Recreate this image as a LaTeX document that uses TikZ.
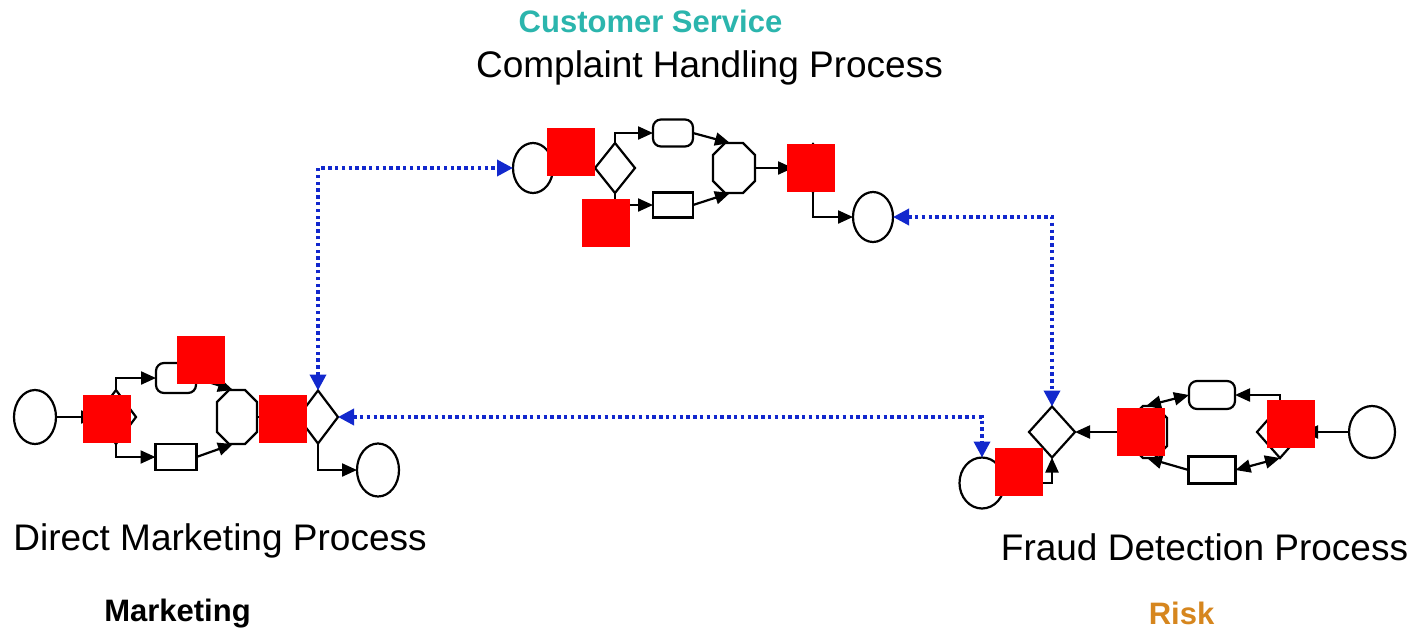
\documentclass[tikz,border=0pt]{standalone}
\usepackage{fontspec}
\setmainfont{Liberation Sans}
\usetikzlibrary{shapes.geometric,arrows.meta}
\definecolor{linkblue}{RGB}{18,40,205}
\definecolor{teal2}{RGB}{43,181,173}
\definecolor{riskorange}{RGB}{214,134,30}
\tikzset{
  shp/.style={draw=black, line width=2.2pt, fill=white, inner sep=0pt, outer sep=0pt},
  circ/.style={shp, ellipse},
  dia/.style={shp, diamond},
  rrect/.style={shp, rectangle, rounded corners=8pt},
  rect/.style={shp, rectangle},
  octbox/.style={rectangle, inner sep=0pt, outer sep=0pt},
  redsq/.style={fill=red, minimum size=48pt, inner sep=0pt},
  flow/.style={draw=black, line width=2.2pt, -{Triangle[length=15pt,width=13pt]}},
  bflow/.style={draw=black, line width=2.2pt, {Triangle[length=15pt,width=13pt]}-{Triangle[length=15pt,width=13pt]}},
  link/.style={draw=linkblue, line width=3.6pt, dash pattern=on 3.4pt off 3.4pt,
    {Triangle[length=16pt,width=16pt]}-{Triangle[length=16pt,width=16pt]}},
  ptitle/.style={font=\fontsize{37}{44}\selectfont, anchor=base, inner sep=0pt},
  dept/.style={font=\bfseries\fontsize{31}{37}\selectfont, anchor=base, inner sep=0pt},
}
\newcommand\octnode[4]{%
  \node[octbox, minimum width=#3, minimum height=#4] (#1) at #2 {};
  \draw[line width=2.2pt, fill=white]
    ([xshift=12pt]#1.north west) -- ([xshift=-12pt]#1.north east)
    -- ([yshift=-12pt]#1.north east) -- ([yshift=12pt]#1.south east)
    -- ([xshift=-12pt]#1.south east) -- ([xshift=12pt]#1.south west)
    -- ([yshift=12pt]#1.south west) -- ([yshift=-12pt]#1.north west) -- cycle;
}
\begin{document}
\begin{tikzpicture}[x=1pt, y=-1pt]
\useasboundingbox[fill=white] (0,0) rectangle (1412,630);

% ---------- texts ----------
\node[dept, text=teal2] (tcs) at (650.5,32) {Customer Service};
\node[ptitle] (tch) at (709.5,77) {Complaint Handling Process};
\node[ptitle] (tdm) at (220,550) {Direct Marketing Process};
\node[ptitle] (tfd) at (1204.5,560) {Fraud Detection Process};
\node[dept] (tmk) at (177.5,621) {Marketing};
\node[dept, text=riskorange] (trk) at (1181.5,624) {Risk};

% ---------- Complaint handling ----------
\node[circ, minimum width=40pt, minimum height=50pt] (cs) at (533,168) {};
\node[dia, minimum width=40pt, minimum height=50pt] (cd1) at (615,168) {};
\node[rrect, minimum width=40pt, minimum height=27pt] (crr) at (673,133) {};
\node[rect, minimum width=40pt, minimum height=25pt] (crc) at (673,205) {};
\octnode{coc}{(734,168)}{42pt}{50pt}
\node[dia, minimum width=40pt, minimum height=48pt] (cd2) at (813,168) {};
\node[circ, minimum width=40pt, minimum height=50pt] (ce) at (873,217) {};

\draw[flow] (cs.east) -- (cd1.west);
\draw[flow] (cd1.north) |- (crr.west);
\draw[flow] (cd1.south) |- (crc.west);
\draw[flow] (crr.east) -- ([xshift=-4pt]coc.north);
\draw[flow] (crc.east) -- ([xshift=-4pt]coc.south);
\draw[flow] (coc.east) -- (cd2.west);
\draw[flow] (cd2.south) |- (ce.west);

% ---------- Direct marketing ----------
\node[circ, minimum width=42pt, minimum height=54pt] (ls) at (35,417) {};
\node[dia, minimum width=40pt, minimum height=54pt] (ld1) at (116,417) {};
\node[rrect, minimum width=40pt, minimum height=30pt] (lrr) at (176,378) {};
\node[rect, minimum width=41pt, minimum height=26pt] (lrc) at (176,457) {};
\octnode{loc}{(237,417)}{40pt}{54pt}
\node[dia, minimum width=40pt, minimum height=53pt] (ld2) at (318,417) {};
\node[circ, minimum width=42pt, minimum height=53pt] (le) at (378,470) {};

\draw[flow] (ls.east) -- (ld1.west);
\draw[flow] (ld1.north) |- (lrr.west);
\draw[flow] (ld1.south) |- (lrc.west);
\draw[flow] (lrr.east) -- ([xshift=-4pt]loc.north);
\draw[flow] (lrc.east) -- ([xshift=-4pt]loc.south);
\draw[flow] (loc.east) -- (ld2.west);
\draw[flow] (ld2.south) |- (le.west);

% ---------- Fraud detection ----------
\node[circ, minimum width=46pt, minimum height=52pt] (rs) at (1372,432) {};
\node[dia, minimum width=46pt, minimum height=52pt] (rd1) at (1280,432) {};
\node[rrect, minimum width=46pt, minimum height=28pt] (rrr) at (1212,395) {};
\node[rect, minimum width=47pt, minimum height=27pt] (rrc) at (1212,470) {};
\octnode{roc}{(1149,432)}{36pt}{52pt}
\node[dia, minimum width=46pt, minimum height=51pt] (rd2) at (1052,432) {};
\node[circ, minimum width=45pt, minimum height=51pt] (re) at (982,483) {};

\draw[flow] (rs.west) -- (rd1.east);
\draw[flow] (rd1.north) |- (rrr.east);
\draw[bflow] (rrc.east) -- (rd1.south);
\draw[bflow] (rrr.west) -- ([xshift=-3pt]roc.north);
\draw[flow] (rrc.west) -- ([xshift=-2pt]roc.south);
\draw[flow] (roc.west) -- (rd2.east);
\draw[flow] (re.east) -| (rd2.south);

% ---------- red squares ----------
\node[redsq] (r1) at (571,152) {};
\node[redsq] (r2) at (606,223) {};
\node[redsq] (r3) at (811,168) {};
\node[redsq] (r4) at (107,419) {};
\node[redsq] (r5) at (201,360) {};
\node[redsq] (r6) at (283,419) {};
\node[redsq] (r7) at (1291,424) {};
\node[redsq] (r8) at (1141,432) {};
\node[redsq] (r9) at (1019,472) {};

% ---------- blue links ----------
\draw[link] (ld2.north) |- (cs.west);
\draw[link] (ce.east) -| (rd2.north);
\draw[link] (ld2.east) -| (re.north);
\end{tikzpicture}
\end{document}
